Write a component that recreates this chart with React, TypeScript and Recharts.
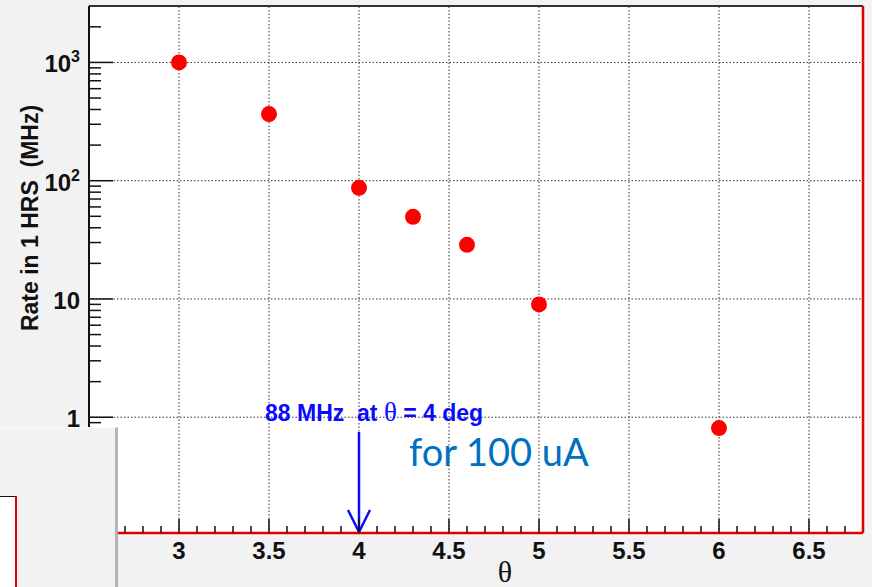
import React from "react";
import { ReferenceLine, Scatter, ScatterChart, XAxis, YAxis } from "recharts";

const THETA = [3, 3.5, 4, 4.3, 4.6, 5, 6];
const RATE_MHZ = [1000, 366, 87, 49.5, 28.7, 9, 0.81];

const X_DOMAIN: [number, number] = [2.5, 6.8];
const Y_DOMAIN: [number, number] = [0.105, 3000];

const X_MAJOR = [3, 3.5, 4, 4.5, 5, 5.5, 6, 6.5];
const X_LABELS = ["3", "3.5", "4", "4.5", "5", "5.5", "6", "6.5"];
const X_MINOR = [
  2.6, 2.7, 2.8, 2.9, 3.1, 3.2, 3.3, 3.4, 3.6, 3.7, 3.8, 3.9, 4.1, 4.2, 4.3, 4.4, 4.6, 4.7, 4.8, 4.9,
  5.1, 5.2, 5.3, 5.4, 5.6, 5.7, 5.8, 5.9, 6.1, 6.2, 6.3, 6.4, 6.6, 6.7,
];

const Y_MAJOR = [1, 10, 100, 1000];
const Y_LABELS = [
  { base: "1", exp: "" },
  { base: "10", exp: "" },
  { base: "10", exp: "2" },
  { base: "10", exp: "3" },
];
const Y_MINOR = [
  0.2, 0.3, 0.4, 0.5, 0.6, 0.7, 0.8, 0.9, 2, 3, 4, 5, 6, 7, 8, 9, 20, 30, 40, 50, 60, 70, 80, 90,
  200, 300, 400, 500, 600, 700, 800, 900, 2000,
];

const ARROW_FROM = { x: 4, y: 0.75 };
const ARROW_TO = { x: 4, y: 0.107 };

const data = THETA.map((theta, i) => ({ theta, rate: RATE_MHZ[i] }));

const AXIS_FONT = "'Liberation Sans', Arial, sans-serif";

function XTick(props: any) {
  const { x, y, payload } = props;
  const idx = X_MAJOR.indexOf(payload.value);
  const major = idx >= 0;
  return (
    <g>
      <line x1={x} y1={y} x2={x} y2={y - (major ? 14 : 7)} stroke="#111" strokeWidth={1.5} />
      {major && (
        <text x={x} y={y + 26} textAnchor="middle" fontFamily={AXIS_FONT} fontWeight="bold" fontSize={24} fill="#111">
          {X_LABELS[idx]}
        </text>
      )}
    </g>
  );
}

function YTick(props: any) {
  const { x, y, payload } = props;
  const idx = Y_MAJOR.indexOf(payload.value);
  const major = idx >= 0;
  const label = major ? Y_LABELS[idx] : null;
  return (
    <g>
      <line x1={x} y1={y} x2={x + (major ? 24 : 12)} y2={y} stroke="#111" strokeWidth={1.5} />
      {label && (
        <text x={x - 9} y={y + 10} textAnchor="end" fontFamily={AXIS_FONT} fontWeight="bold" fontSize={24} fill="#111">
          <tspan>{label.base}</tspan>
          {label.exp && (
            <tspan dy={-10} fontSize={16}>
              {label.exp}
            </tspan>
          )}
        </text>
      )}
    </g>
  );
}

function Arrow(props: any) {
  const { x1, y1, x2, y2 } = props;
  return (
    <g stroke="#0a0aff" strokeWidth={2.5} fill="none">
      <line x1={x1} y1={y1} x2={x2} y2={y2} />
      <polyline points={`${x2 - 11},${y2 - 22} ${x2},${y2} ${x2 + 11},${y2 - 22}`} />
    </g>
  );
}

function Dot(props: any) {
  return <circle cx={props.cx} cy={props.cy} r={8} fill="#ff0000" />;
}

export default function App() {
  return (
    <div
      style={{
        position: "absolute",
        left: 0,
        top: 0,
        width: 872,
        height: 587,
        background: "#f2f2f2",
        overflow: "hidden",
      }}
    >
      <div style={{ position: "absolute", left: 89, top: 6, width: 774, height: 527, background: "#fff" }} />
      <div style={{ position: "absolute", left: 0, top: 0 }}>
        <ScatterChart width={872} height={587} margin={{ top: 6, right: 9, bottom: 0, left: 0 }}>
          <XAxis
            dataKey="theta"
            type="number"
            domain={X_DOMAIN}
            allowDataOverflow
            ticks={[...X_MAJOR, ...X_MINOR]}
            interval={0}
            tick={<XTick />}
            tickLine={false}
            tickSize={0}
            tickMargin={0}
            height={54}
            axisLine={{ stroke: "#e00000", strokeWidth: 2.5 }}
          />
          <YAxis
            dataKey="rate"
            type="number"
            scale="log"
            domain={Y_DOMAIN}
            allowDataOverflow
            ticks={[...Y_MAJOR, ...Y_MINOR]}
            interval={0}
            tick={<YTick />}
            tickLine={false}
            tickSize={0}
            tickMargin={0}
            width={89}
            axisLine={{ stroke: "#111", strokeWidth: 2 }}
          />
          {Y_MAJOR.map((v) => (
            <ReferenceLine key={`h${v}`} y={v} stroke="#333" strokeDasharray="1.5 2" strokeWidth={1} />
          ))}
          {X_MAJOR.map((v) => (
            <ReferenceLine key={`v${v}`} x={v} stroke="#333" strokeDasharray="1.5 2" strokeWidth={1} />
          ))}
          <ReferenceLine y={Y_DOMAIN[1]} stroke="#333" strokeWidth={2} />
          <ReferenceLine x={X_DOMAIN[1]} stroke="#e00000" strokeWidth={2.5} />
          <ReferenceLine segment={[ARROW_FROM, ARROW_TO]} shape={<Arrow />} />
          <Scatter data={data} shape={<Dot />} isAnimationActive={false} />
        </ScatterChart>
      </div>

      <div
        style={{
          position: "absolute",
          left: 30,
          top: 218,
          transform: "translate(-50%, -50%) rotate(-90deg)",
          whiteSpace: "nowrap",
          fontFamily: AXIS_FONT,
          fontWeight: "bold",
          fontSize: 23,
          color: "#111",
        }}
      >
        Rate in 1 HRS&nbsp;&nbsp;(MHz)
      </div>
      <div
        style={{
          position: "absolute",
          left: 505,
          top: 555,
          transform: "translateX(-50%)",
          fontFamily: "'Liberation Serif', 'Times New Roman', serif",
          fontSize: 30,
          lineHeight: "34px",
          color: "#111",
        }}
      >
        θ
      </div>
      <div
        style={{
          position: "absolute",
          left: 265,
          top: 398,
          whiteSpace: "nowrap",
          fontFamily: AXIS_FONT,
          fontWeight: "bold",
          fontSize: 23,
          lineHeight: "28px",
          color: "#0a0aff",
        }}
      >
        88 MHz&nbsp;&nbsp;at <span style={{ fontFamily: "'Liberation Serif', serif", fontWeight: "normal", fontSize: 27 }}>θ</span>&nbsp;= 4 deg
      </div>
      <div
        style={{
          position: "absolute",
          left: 409,
          top: 427,
          whiteSpace: "nowrap",
          fontFamily: "Lato, 'Open Sans', sans-serif",
          fontSize: 38,
          lineHeight: "48px",
          color: "#0070c0",
        }}
      >
        for 100 uA
      </div>

      <div
        style={{
          position: "absolute",
          left: 0,
          top: 427,
          width: 115,
          height: 160,
          background: "#f2f2f2",
          borderTop: "1px solid #fbfbfb",
          borderRight: "3px solid #b4b4b4",
        }}
      />
      <div
        style={{
          position: "absolute",
          left: -1,
          top: 496,
          width: 15,
          height: 100,
          background: "#fff",
          border: "1px solid #111",
          borderRight: "2px solid #e00000",
        }}
      />
    </div>
  );
}
